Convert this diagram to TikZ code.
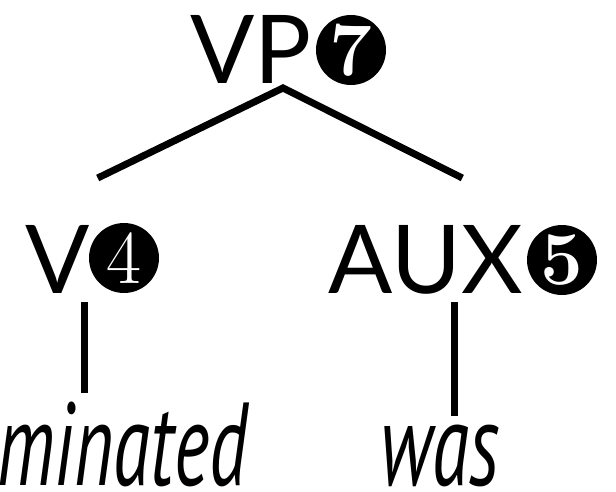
\documentclass[tikz,border=0pt]{standalone}
\usepackage{fontspec}
\newfontfamily\catfont{Lato}
\newfontfamily\wordfont[FakeStretch=0.64]{PT Sans}
\newfontfamily\numfont{Latin Modern Roman}
\usetikzlibrary{positioning, calc}
\tikzset{
    cat/.style={
        inner sep=0pt,
        font=\catfont\fontsize{95}{100}\selectfont,
    },
    word/.style={
        inner sep=0pt,
        font=\wordfont\itshape\fontsize{118}{118}\selectfont,
    },
    num/.style={
        circle,
        fill=black,
        text=white,
        inner sep=0pt,
        minimum size=70pt,
        font=\numfont\bfseries\fontsize{76}{76}\selectfont,
    },
    numlight/.style={
        num,
        font=\numfont\fontsize{76}{76}\selectfont,
    },
    branch/.style={
        line width=7pt,
    },
}
\begin{document}
\begin{tikzpicture}[x=1pt, y=-1pt]
      \useasboundingbox (0,0) rectangle (616,491);
      \clip (0,0) rectangle (616,491);

      % categories with their step numbers
      \node [cat, anchor=base east] (vp) at (312,83) {VP};
      \node [num] (vp-num) at (351,50) {7};
      \node [cat, anchor=base west] (v) at (25,293) {V};
      \node [numlight] (v-num) at (124,258) {4};
      \node [cat, anchor=base east] (aux) at (523,293) {AUX};
      \node [num] (aux-num) at (562,260) {5};

      % words
      \node [word, anchor=base east] (verb) at (248,485) {minated};
      \node [word, anchor=base] (was) at (440,485) {was};

      % where the branches meet the labels
      \coordinate (vp-foot) at ($(vp.base east)+(-29,5)$);
      \coordinate (v-top) at ($(v.base east)+(8,-115)$);
      \coordinate (aux-top) at ($(aux.base west)+(134,-115)$);
      \coordinate (v-foot) at ($(v.base east)+(-5,9)$);
      \coordinate (aux-foot) at ($(aux.base west)+(126,9)$);

      \draw [branch] (v-top) -- (vp-foot) -- (aux-top);
      \draw [branch] (v-foot) -- ($(v-foot |- verb.north)+(0,-8)$);
      \draw [branch] (aux-foot) -- ($(aux-foot |- was.north)+(0,-8)$);
\end{tikzpicture}
\end{document}
